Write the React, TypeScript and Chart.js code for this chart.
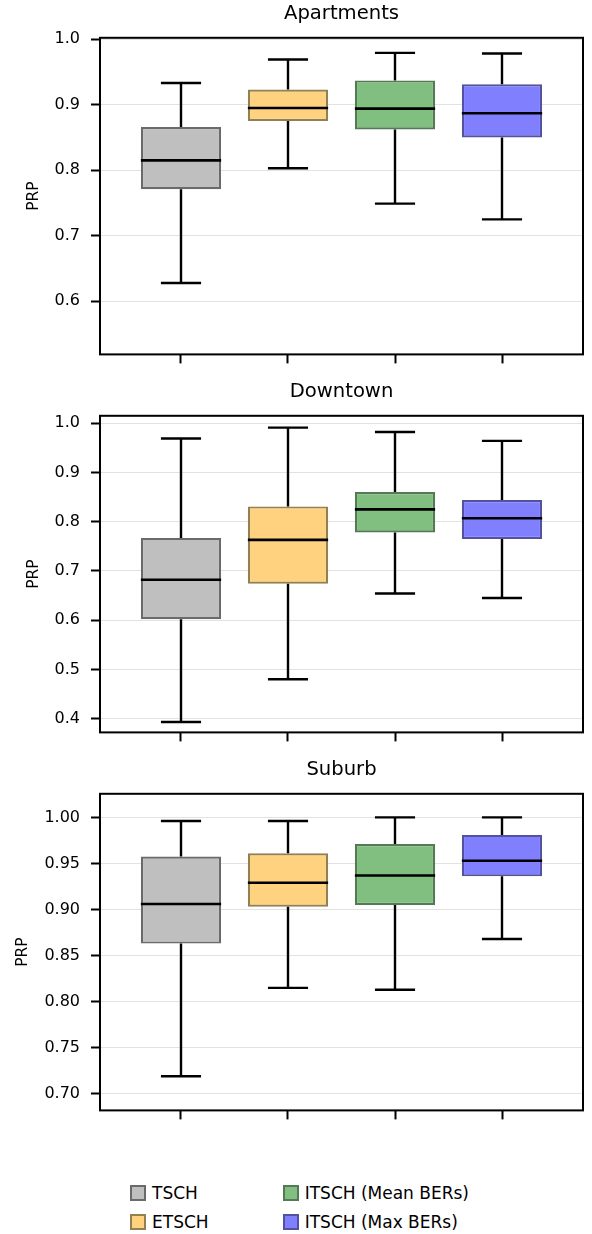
import React, { useEffect, useRef } from 'react';
import { Chart, registerables } from 'chart.js';

Chart.register(...registerables);
Chart.defaults.font.family = '"DejaVu Sans", sans-serif';
Chart.defaults.color = '#000';

// ---- data ----
const categories = ['TSCH', 'ETSCH', 'ITSCH (Mean BERs)', 'ITSCH (Max BERs)'];
const panelTitles = ['Apartments', 'Downtown', 'Suburb'];

const aptLow = [0.628, 0.803, 0.749, 0.725];
const aptQ1 = [0.771, 0.875, 0.862, 0.85];
const aptMed = [0.815, 0.895, 0.894, 0.887];
const aptQ3 = [0.866, 0.923, 0.937, 0.931];
const aptHigh = [0.933, 0.969, 0.979, 0.978];

const dtLow = [0.393, 0.48, 0.654, 0.645];
const dtQ1 = [0.602, 0.674, 0.778, 0.765];
const dtMed = [0.682, 0.763, 0.825, 0.807];
const dtQ3 = [0.767, 0.831, 0.86, 0.844];
const dtHigh = [0.969, 0.991, 0.982, 0.964];

const subLow = [0.719, 0.815, 0.813, 0.868];
const subQ1 = [0.863, 0.903, 0.905, 0.936];
const subMed = [0.906, 0.929, 0.937, 0.953];
const subQ3 = [0.9575, 0.961, 0.971, 0.981];
const subHigh = [0.996, 0.996, 1.0, 1.0];

const aptTicks = [0.6, 0.7, 0.8, 0.9, 1.0];
const dtTicks = [0.4, 0.5, 0.6, 0.7, 0.8, 0.9, 1.0];
const subTicks = [0.7, 0.75, 0.8, 0.85, 0.9, 0.95, 1.0];

// ---- styles ----
const faceColors = ['#bfbfbf', '#ffd280', '#80bf80', '#8080ff'];
const edgeColors = ['#6a6a6a', '#94804f', '#557855', '#5252a0'];

const panels = [
  { title: panelTitles[0], lo: aptLow, q1: aptQ1, med: aptMed, q3: aptQ3, hi: aptHigh, ticks: aptTicks, yMin: 0.519, yMax: 1.002, dec: 1, labelPad: 25, top: 0 },
  { title: panelTitles[1], lo: dtLow, q1: dtQ1, med: dtMed, q3: dtQ3, hi: dtHigh, ticks: dtTicks, yMin: 0.372, yMax: 1.015, dec: 1, labelPad: 25, top: 378 },
  { title: panelTitles[2], lo: subLow, q1: subQ1, med: subMed, q3: subQ3, hi: subHigh, ticks: subTicks, yMin: 0.682, yMax: 1.0256, dec: 2, labelPad: 14, top: 756 },
];

function BoxPanel(props: any) {
  const { title, lo, q1, med, q3, hi, ticks, yMin, yMax, dec, labelPad, top } = props;
  const ref = useRef<HTMLCanvasElement>(null);

  useEffect(() => {
    if (!ref.current) return;
    const boxExtras = {
      id: 'boxExtras',
      afterDatasetsDraw(chart: any) {
        const ctx = chart.ctx;
        const xs = chart.scales.x;
        const ys = chart.scales.y;
        const meta = chart.getDatasetMeta(0);
        ctx.save();
        ctx.strokeStyle = '#000';
        ctx.lineCap = 'butt';
        categories.forEach((_, i) => {
          const el = meta.data[i];
          const cx = xs.getPixelForValue(i + 1);
          const hw = el.width / 2;
          const cw = hw / 2;
          const yHi = ys.getPixelForValue(hi[i]);
          const yLo = ys.getPixelForValue(lo[i]);
          const yQ1 = ys.getPixelForValue(q1[i]);
          const yQ3 = ys.getPixelForValue(q3[i]);
          const yMed = ys.getPixelForValue(med[i]);
          ctx.lineWidth = 2.4;
          ctx.beginPath();
          ctx.moveTo(cx, yQ3);
          ctx.lineTo(cx, yHi);
          ctx.moveTo(cx, yQ1);
          ctx.lineTo(cx, yLo);
          ctx.moveTo(cx - cw, yHi);
          ctx.lineTo(cx + cw, yHi);
          ctx.moveTo(cx - cw, yLo);
          ctx.lineTo(cx + cw, yLo);
          ctx.stroke();
          ctx.lineWidth = 2.6;
          ctx.beginPath();
          ctx.moveTo(cx - hw, yMed);
          ctx.lineTo(cx + hw, yMed);
          ctx.stroke();
        });
        const a = chart.chartArea;
        ctx.lineWidth = 2;
        ctx.strokeRect(a.left, a.top, a.right - a.left, a.bottom - a.top);
        // panel title, centred over the plot area
        ctx.fillStyle = '#000';
        ctx.font = '19.6px "DejaVu Sans", sans-serif';
        ctx.textAlign = 'center';
        ctx.textBaseline = 'middle';
        ctx.fillText(title, (a.left + a.right) / 2, a.top - 24);
        ctx.restore();
      },
    };

    const chart = new Chart(ref.current, {
      type: 'bar',
      data: {
        datasets: [
          {
            label: title,
            data: categories.map((_, i) => ({ x: i + 1, y: [q1[i], q3[i]] })) as any,
            backgroundColor: faceColors,
            borderColor: edgeColors,
            borderWidth: 2.2,
            borderSkipped: false,
            categoryPercentage: 1,
            barPercentage: 0.75,
          } as any,
        ],
      },
      options: {
        responsive: false,
        animation: false,
        devicePixelRatio: 1,
        layout: { padding: { top: 37.8, right: 9, left: 0, bottom: 0 } },
        plugins: {
          legend: { display: false },
          tooltip: { enabled: false },
          title: { display: false },
        },
        scales: {
          x: {
            type: 'linear',
            min: 0.243,
            max: 4.757,
            offset: false,
            afterBuildTicks: (s: any) => {
              s.ticks = categories.map((_, i) => ({ value: i + 1 }));
            },
            afterFit: (s: any) => {
              s.height = 19;
            },
            ticks: { display: false },
            grid: { offset: false, drawOnChartArea: false, drawTicks: true, tickLength: 9, tickColor: '#000', tickWidth: 2 },
            border: { display: false },
          },
          y: {
            type: 'linear',
            min: yMin,
            max: yMax,
            afterBuildTicks: (s: any) => {
              s.ticks = ticks.map((v: number) => ({ value: v }));
            },
            afterFit: (s: any) => {
              s.width = 100;
            },
            ticks: {
              padding: 11,
              color: '#000',
              font: { size: 16 },
              callback: (v: any) => Number(v).toFixed(dec),
            },
            grid: { color: '#e2e2e2', lineWidth: 1, drawTicks: true, tickLength: 9, tickColor: '#000', tickWidth: 2 },
            border: { display: false },
            title: {
              display: true,
              text: 'PRP',
              color: '#000',
              font: { size: 15.5 },
              padding: { top: labelPad, bottom: 0 },
            },
          },
        },
      } as any,
      plugins: [boxExtras],
    });
    return () => chart.destroy();
  }, []);

  return (
    <canvas
      ref={ref}
      width={592}
      height={375}
      style={{ position: 'absolute', left: 0, top, width: 592, height: 375 }}
    />
  );
}

const legendCols = [130, 282.7];
const legendRows = [1193, 1222];

export default function App() {
  return (
    <div style={{ position: 'absolute', left: 0, top: 0, width: 592, height: 1234, background: '#fff', fontFamily: '"DejaVu Sans", sans-serif' }}>
      {panels.map((p) => (
        <BoxPanel key={p.title} {...p} />
      ))}
      {categories.map((c, i) => {
        const col = Math.floor(i / 2);
        const row = i % 2;
        return (
          <div
            key={c}
            style={{
              position: 'absolute',
              left: legendCols[col],
              top: legendRows[row] - 10,
              height: 20,
              display: 'flex',
              alignItems: 'center',
              whiteSpace: 'nowrap',
            }}
          >
            <span
              style={{
                display: 'inline-block',
                width: 16,
                height: 16,
                boxSizing: 'border-box',
                border: `2px solid ${edgeColors[i]}`,
                background: faceColors[i],
              }}
            />
            <span style={{ marginLeft: 6, fontSize: 17, color: '#000', lineHeight: '20px' }}>{c}</span>
          </div>
        );
      })}
    </div>
  );
}
